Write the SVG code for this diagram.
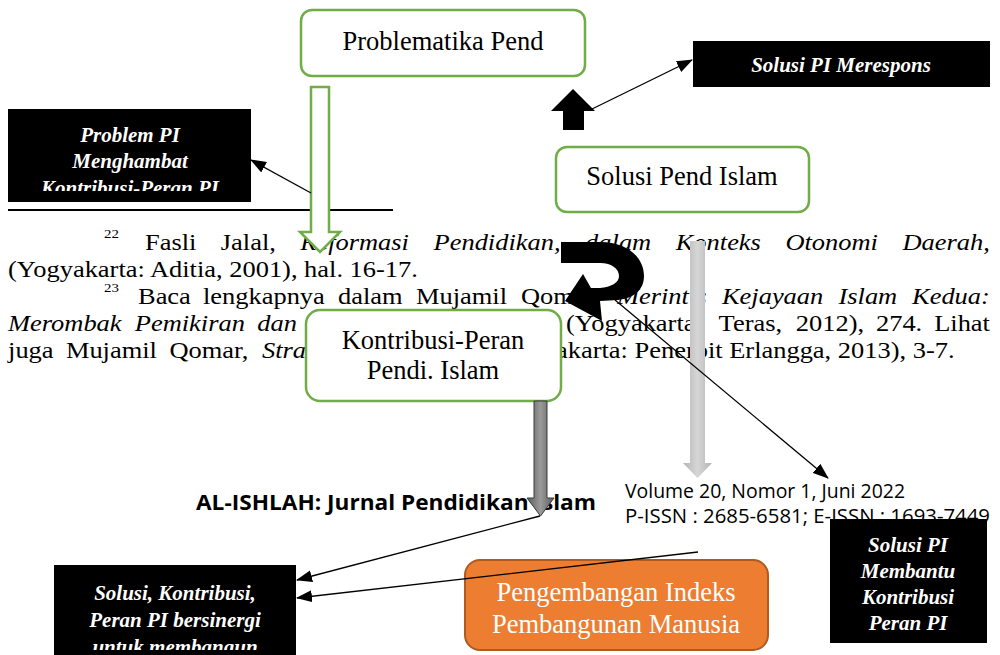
<svg xmlns="http://www.w3.org/2000/svg" width="1000" height="655" viewBox="0 0 1000 655">
<defs>
<style>
.fn{font-family:"Liberation Serif","Times New Roman",serif;font-size:23px;fill:#000}
.it{font-style:italic}
.sup{font-family:"Liberation Serif","Times New Roman",serif;font-size:13px;fill:#000}
.gbox{fill:#fff;stroke:#70ad47;stroke-width:2.5}
.lbl{font-family:"Liberation Serif","Times New Roman",serif;font-size:26.5px;fill:#000;text-anchor:middle}
.bbox{fill:#000}
.wl{font-family:"Liberation Serif","Times New Roman",serif;font-size:21px;font-weight:bold;font-style:italic;fill:#fff;text-anchor:middle}
.hdr{font-family:"Open Sans","Liberation Sans",sans-serif;font-size:20px;fill:#000}
.thin{stroke:#000;stroke-width:1.3;fill:none;marker-end:url(#ah)}
</style>
<marker id="ah" viewBox="0 0 16 12" refX="15" refY="6" markerWidth="16" markerHeight="12" markerUnits="userSpaceOnUse" orient="auto">
<path d="M0,0 L16,6 L0,12 z" fill="#000"/>
</marker>
<linearGradient id="lg" x1="0" y1="0" x2="1" y2="0">
<stop offset="0" stop-color="#b4b4b4"/><stop offset="0.5" stop-color="#d6d6d6"/><stop offset="1" stop-color="#b4b4b4"/>
</linearGradient>
<linearGradient id="dg" x1="0" y1="0" x2="1" y2="0">
<stop offset="0" stop-color="#5c5c5c"/><stop offset="0.5" stop-color="#9a9a9a"/><stop offset="1" stop-color="#5c5c5c"/>
</linearGradient>
<clipPath id="c1"><rect x="8" y="109" width="243" height="82"/></clipPath>
<clipPath id="c2"><rect x="54" y="565" width="242" height="85"/></clipPath>
</defs>
<rect width="1000" height="655" fill="#fff"/>

<g id="page-text">
<line x1="8" y1="210" x2="393" y2="210" stroke="#000" stroke-width="2"/>
<g transform="matrix(1.15 0 0 1 0 0)">
<text class="sup" x="90.4" y="238">22</text>
<text class="fn" y="250"><tspan x="126.1">Fasli</tspan><tspan x="192">Jalal,</tspan><tspan x="261.1" class="it">Reformasi</tspan><tspan x="377" class="it">Pendidikan,</tspan><tspan x="508.8" class="it">dalam</tspan><tspan x="587.6" class="it">Konteks</tspan><tspan x="683" class="it">Otonomi</tspan><tspan x="784.8" class="it">Daerah,</tspan></text>
<text class="fn" x="7" y="277">(Yogyakarta: Aditia, 2001), hal. 16-17.</text>
<text class="sup" x="90.4" y="292">23</text>
<text class="fn" y="304"><tspan x="120">Baca</tspan><tspan x="176.5">lengkapnya</tspan><tspan x="293.9">dalam</tspan><tspan x="361.7">Mujamil</tspan><tspan x="453">Qomar,</tspan><tspan x="536.5" class="it">Merintis</tspan><tspan x="627.8" class="it">Kejayaan</tspan><tspan x="729.1" class="it">Islam</tspan><tspan x="793.1" class="it">Kedua:</tspan></text>
<text class="fn" y="331"><tspan x="7" class="it">Merombak</tspan><tspan x="117.2" class="it">Pemikiran</tspan><tspan x="223.7" class="it">dan</tspan><tspan x="492.2">(Yogyakarta:</tspan><tspan x="624.9">Teras,</tspan><tspan x="692">2012),</tspan><tspan x="761.7">274.</tspan><tspan x="812.3">Lihat</tspan></text>
<text class="fn" y="358"><tspan x="7">juga</tspan><tspan x="57.3">Mujamil</tspan><tspan x="147.4">Qomar,</tspan><tspan x="227.8" class="it">Strate</tspan><tspan x="483.5">akarta: Penerbit Erlangga, 2013), 3-7.</tspan></text>
</g>
<text class="hdr" x="625" y="498" textLength="280" lengthAdjust="spacingAndGlyphs">Volume 20, Nomor 1, Juni 2022</text>
<text class="hdr" x="625" y="523" textLength="365" lengthAdjust="spacingAndGlyphs">P-ISSN : 2685-6581; E-ISSN : 1693-7449</text>
<text class="hdr" x="196" y="510" font-weight="bold" style="font-size:22px" textLength="400" lengthAdjust="spacingAndGlyphs">AL-ISHLAH: Jurnal Pendidikan Islam</text>
</g>

<g id="node-problematika">
<rect class="gbox" x="301" y="10" width="284" height="66" rx="11"/>
<text class="lbl" x="443" y="50">Problematika Pend</text>
</g>
<g id="node-problem-pi">
<rect class="bbox" x="8" y="109" width="243" height="93"/>
<g clip-path="url(#c1)">
<text class="wl" x="130" y="142">Problem PI</text>
<text class="wl" x="130" y="168">Menghambat</text>
<text class="wl" x="130" y="195">Kontribusi-Peran PI</text>
</g>
</g>
<g id="node-solusi-merespons">
<rect class="bbox" x="693" y="41" width="297" height="46"/>
<text class="wl" x="841" y="72">Solusi PI Merespons</text>
</g>
<g id="node-solusi-pend">
<rect class="gbox" x="556" y="147" width="253" height="65" rx="11"/>
<text class="lbl" x="682" y="185">Solusi Pend Islam</text>
</g>
<g id="node-kontribusi">
<rect class="gbox" x="306" y="310" width="255" height="91" rx="14"/>
<text class="lbl" x="433" y="349">Kontribusi-Peran</text>
<text class="lbl" x="433" y="379">Pendi. Islam</text>
</g>
<g id="node-solusi-membantu">
<rect class="bbox" x="830" y="519" width="157" height="124"/>
<text class="wl" x="908" y="552">Solusi PI</text>
<text class="wl" x="908" y="578">Membantu</text>
<text class="wl" x="908" y="604">Kontribusi</text>
<text class="wl" x="908" y="630">Peran PI</text>
</g>
<g id="node-solusi-kontribusi">
<rect class="bbox" x="54" y="565" width="242" height="90"/>
<g clip-path="url(#c2)">
<text class="wl" x="175" y="600">Solusi, Kontribusi,</text>
<text class="wl" x="175" y="627">Peran PI bersinergi</text>
<text class="wl" x="175" y="654">untuk membangun</text>
</g>
</g>
<g id="node-ipm">
<rect x="465" y="560" width="303" height="90" rx="15" fill="#ed7d31" stroke="#ae5a21" stroke-width="2"/>
<text class="lbl" x="616" y="601" style="fill:#fff">Pengembangan Indeks</text>
<text class="lbl" x="616" y="633" style="fill:#fff">Pembangunan Manusia</text>
</g>

<g id="connectors">
<path d="M311,87 H329 V232 H340 L320,252 L300,232 H311 Z" fill="#fff" stroke="#70ad47" stroke-width="2.5"/>
<path d="M573,89 L595,111 H584 V130 H563 V111 H551 Z" fill="#000"/>
<path d="M561,242 L600,242 C628,242 644,258 644,276 C644,290 634,298 618,300 L600,301 L602,321 L565,301 L583,274 L591,288 L600,288 C611,287 619,283 619,276 C619,269 612,263 600,263 L561,263 Z" fill="#000"/>
<path d="M690,241 H705 V463 H712 L697.5,478 L683,463 H690 Z" fill="url(#lg)"/>
<path d="M534,401 H547 V498 H554 L540.5,516 L527,498 H534 Z" fill="url(#dg)" stroke="#3a3a3a" stroke-width="1"/>
<line class="thin" x1="311" y1="193" x2="251" y2="160"/>
<line class="thin" x1="590" y1="110" x2="692" y2="60"/>
<line class="thin" x1="615" y1="300" x2="828" y2="478"/>
<line class="thin" x1="540" y1="516" x2="297" y2="580"/>
<line class="thin" x1="698" y1="552" x2="297" y2="598"/>
</g>
</svg>
